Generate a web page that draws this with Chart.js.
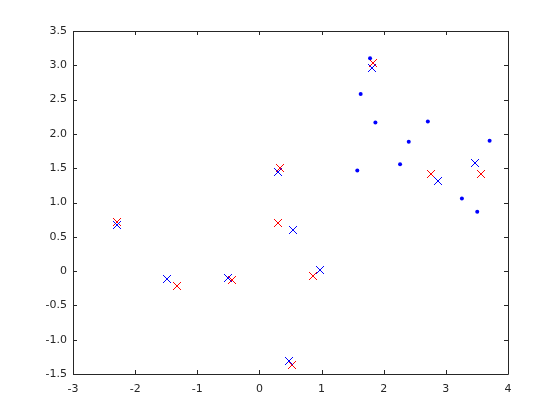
<!DOCTYPE html>
<html>
<head>
<meta charset="utf-8">
<script src="https://cdn.jsdelivr.net/npm/chart.js@4/dist/chart.umd.min.js"></script>
<style>
  html, body { margin: 0; padding: 0; background: #fff; }
  #chart { display: block; }
</style>
</head>
<body>
<canvas id="chart" width="560" height="420"></canvas>
<script>
// data
const dotX = [1.780, 1.629, 1.866, 2.710, 2.403, 3.704, 2.263, 1.575, 3.258, 3.505];
const dotY = [3.101, 2.581, 2.167, 2.182, 1.885, 1.900, 1.559, 1.467, 1.058, 0.864];

const blueX = [1.812, 0.306, 0.538, 0.968, 2.871, 3.462, -2.285, -1.484, -0.500, 0.473];
const blueY = [2.955, 1.438, 0.601, 0.022, 1.316, 1.569, 0.679, -0.109, -0.094, -1.315];

const redX = [1.828, 0.339, 0.306, 0.855, 2.753, 3.570, -2.285, -1.323, -0.441, 0.532];
const redY = [3.038, 1.496, 0.708, -0.070, 1.418, 1.409, 0.723, -0.216, -0.128, -1.364];

const xTicks = [-3, -2, -1, 0, 1, 2, 3, 4];
const yTicks = [-1.5, -1, -0.5, 0, 0.5, 1, 1.5, 2, 2.5, 3, 3.5];

function toPoints(xs, ys) {
    return xs.map(function(x, i) { return { x: x, y: ys[i] }; });
}

// crisp pixel "x" marker, like the octave one
function crossMarker(color) {
    const n = 8;
    const c = document.createElement('canvas');
    c.width = n; c.height = n;
    const g = c.getContext('2d');
    g.fillStyle = color;
    for (let i = 0; i < n; i++) {
        g.fillRect(i, i, 1, 1);
        g.fillRect(n - 1 - i, i, 1, 1);
    }
    return c;
}

const axisColor = '#262626';

// box around the plot and inward ticks on all four sides
const boxPlugin = {
    id: 'boxTicks',
    beforeDatasetsDraw: function(chart) {
        chart.ctx.imageSmoothingEnabled = false;
    },
    afterDraw: function(chart) {
        const ctx = chart.ctx;
        const a = chart.chartArea;
        const sx = chart.scales.x, sy = chart.scales.y;
        const len = 4;
        ctx.save();
        ctx.strokeStyle = axisColor;
        ctx.lineWidth = 1;
        ctx.beginPath();
        ctx.rect(Math.round(a.left) + 0.5, Math.round(a.top) + 0.5,
                 Math.round(a.right - a.left), Math.round(a.bottom - a.top));
        xTicks.forEach(function(v) {
            const px = Math.round(sx.getPixelForValue(v)) + 0.5;
            ctx.moveTo(px, a.bottom); ctx.lineTo(px, a.bottom - len);
            ctx.moveTo(px, a.top); ctx.lineTo(px, a.top + len);
        });
        yTicks.forEach(function(v) {
            const py = Math.round(sy.getPixelForValue(v)) + 0.5;
            ctx.moveTo(a.left, py); ctx.lineTo(a.left + len, py);
            ctx.moveTo(a.right, py); ctx.lineTo(a.right - len, py);
        });
        ctx.stroke();
        ctx.restore();
    }
};

new Chart(document.getElementById('chart').getContext('2d'), {
    type: 'scatter',
    data: {
        datasets: [
            {
                label: 'dots',
                data: toPoints(dotX, dotY),
                pointStyle: 'circle',
                pointRadius: 2,
                pointBackgroundColor: '#0000ff',
                pointBorderColor: '#0000ff',
                pointBorderWidth: 0
            },
            {
                label: 'blue x',
                data: toPoints(blueX, blueY),
                pointStyle: crossMarker('#0000ff'),
                pointRadius: 4,
                pointBackgroundColor: '#0000ff',
                pointBorderColor: '#0000ff'
            },
            {
                label: 'red x',
                data: toPoints(redX, redY),
                pointStyle: crossMarker('#ff0000'),
                pointRadius: 4,
                pointBackgroundColor: '#ff0000',
                pointBorderColor: '#ff0000'
            }
        ]
    },
    options: {
        responsive: false,
        animation: false,
        layout: { padding: { top: 31, right: 52, left: 0, bottom: 0 } },
        plugins: {
            legend: { display: false },
            tooltip: { enabled: false }
        },
        scales: {
            x: {
                type: 'linear',
                min: -3, max: 4,
                afterBuildTicks: function(s) { s.ticks = xTicks.map(function(v) { return { value: v }; }); },
                afterFit: function(s) { s.height = 46; },
                grid: { display: false, drawTicks: false },
                border: { display: false },
                ticks: { color: axisColor, padding: 9, font: { family: 'DejaVu Sans', size: 11 } }
            },
            y: {
                type: 'linear',
                min: -1.5, max: 3.5,
                afterBuildTicks: function(s) { s.ticks = yTicks.map(function(v) { return { value: v }; }); },
                afterFit: function(s) { s.width = 73; },
                grid: { display: false, drawTicks: false },
                border: { display: false },
                ticks: { color: axisColor, padding: 6, font: { family: 'DejaVu Sans', size: 11 } }
            }
        }
    },
    plugins: [boxPlugin]
});
</script>
</body>
</html>
